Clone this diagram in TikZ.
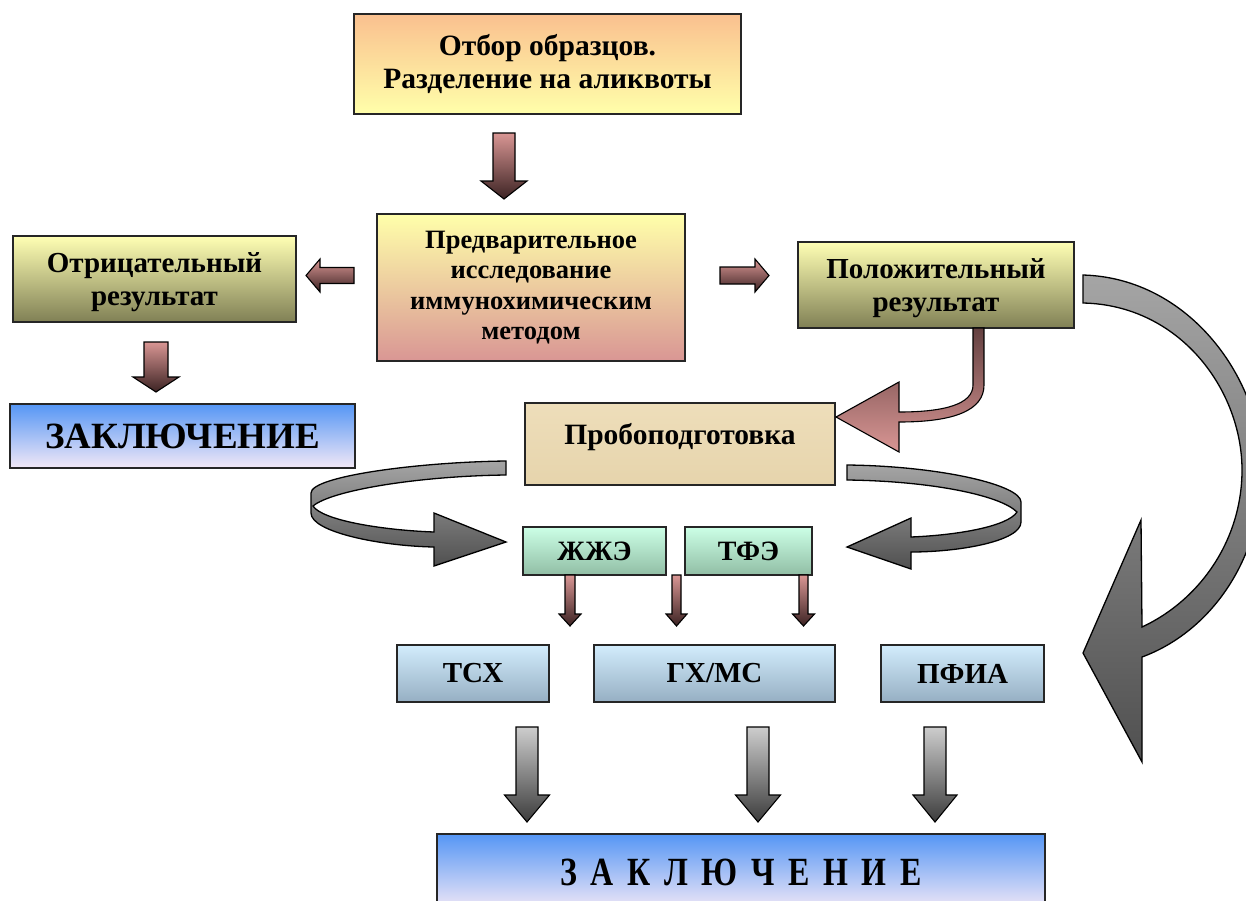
\documentclass[tikz,border=0pt]{standalone}
\usepackage{fontspec}
\setmainfont{Liberation Serif}
\definecolor{peach}{RGB}{250,192,143}
\definecolor{lyel}{RGB}{255,255,170}
\definecolor{rose}{RGB}{217,150,148}
\definecolor{olivetop}{RGB}{255,255,180}
\definecolor{olivebot}{RGB}{128,128,85}
\definecolor{bluetop}{RGB}{85,150,245}
\definecolor{bluebot}{RGB}{242,232,246}
\definecolor{minttop}{RGB}{204,255,230}
\definecolor{mintbot}{RGB}{145,190,165}
\definecolor{lbtop}{RGB}{210,236,252}
\definecolor{lbbot}{RGB}{150,175,195}
\definecolor{beige}{RGB}{238,222,186}
\definecolor{beigebot}{RGB}{230,212,172}
\definecolor{darkrose}{RGB}{60,35,35}
\definecolor{midrose}{RGB}{100,65,65}
\definecolor{gtop}{RGB}{205,205,205}
\definecolor{gbot}{RGB}{60,60,60}
\definecolor{ctop}{RGB}{165,165,165}
\definecolor{cbot}{RGB}{80,80,80}
\newcommand\varrow[7]{\path[#7] ({#1-#5},#2) -- ({#1+#5},#2) -- ({#1+#5},#3) -- ({#1+#6},#3) -- (#1,#4) -- ({#1-#6},#3) -- ({#1-#5},#3) -- cycle;}
\newcommand\harrow[7]{\path[#7] (#1,{#4-#5}) -- (#2,{#4-#5}) -- (#2,{#4-#6}) -- (#3,#4) -- (#2,{#4+#6}) -- (#2,{#4+#5}) -- (#1,{#4+#5}) -- cycle;}
\newcommand\lsp{\hspace{17pt}}
\begin{document}
\begin{tikzpicture}[x=1pt,y=-1pt,
  box/.style={draw=black!85, line width=1.6pt, align=center, inner sep=2pt, text=black},
  parrow/.style={draw=black, line width=1.1pt, top color=rose, bottom color=darkrose},
  garrow/.style={draw=black, line width=1.1pt, top color=gtop, bottom color=gbot},
  carrow/.style={draw=black, line width=1.3pt, top color=ctop, bottom color=cbot},
]
\useasboundingbox (0,0) rectangle (1246,900);
\clip (0,0) rectangle (1246,900);
\fill[white] (0,0) rectangle (1246,900);

% boxes
\node[box, top color=peach, bottom color=lyel, minimum width=387, minimum height=100,
  font=\fontsize{29.5}{33}\selectfont\bfseries] (otbor) at (547.5,64) {Отбор образцов.\\Разделение на аликвоты};
\node[box, top color=lyel, bottom color=rose, minimum width=308, minimum height=147,
  font=\fontsize{26.5}{30.5}\selectfont\bfseries] (predv) at (531,287.5) {Предварительное\\исследование\\иммунохимическим\\методом};
\node[box, top color=olivetop, bottom color=olivebot, minimum width=283, minimum height=86,
  font=\fontsize{29}{33}\selectfont\bfseries, text depth=0pt] (neg) at (154.5,279) {Отрицательный\\результат};
\node[box, top color=olivetop, bottom color=olivebot, minimum width=276, minimum height=86,
  font=\fontsize{29}{33}\selectfont\bfseries, text depth=0pt] (pos) at (936,285) {Положительный\\результат};
\node[box, top color=bluetop, bottom color=bluebot, minimum width=345, minimum height=64,
  font=\fontsize{37}{42}\selectfont\bfseries] (concl1) at (182.5,436) {ЗАКЛЮЧЕНИЕ};
\node[box, top color=beige, bottom color=beigebot, minimum width=310, minimum height=82,
  font=\fontsize{29.5}{33}\selectfont\bfseries, text height=15pt, text depth=15pt] (prob) at (680,444) {Пробоподготовка};
\node[box, top color=minttop, bottom color=mintbot, minimum width=143, minimum height=48,
  font=\fontsize{28}{30}\selectfont\bfseries] (zhzhe) at (594.5,551) {ЖЖЭ};
\node[box, top color=minttop, bottom color=mintbot, minimum width=127, minimum height=48,
  font=\fontsize{28}{30}\selectfont\bfseries] (tfe) at (748.5,551) {ТФЭ};
\node[box, top color=lbtop, bottom color=lbbot, minimum width=152, minimum height=57,
  font=\fontsize{29}{30}\selectfont\bfseries] (tsx) at (473,673.5) {ТСХ};
\node[box, top color=lbtop, bottom color=lbbot, minimum width=241, minimum height=57,
  font=\fontsize{29}{30}\selectfont\bfseries] (gxms) at (714.5,673.5) {ГХ/МС};
\node[box, top color=lbtop, bottom color=lbbot, minimum width=163, minimum height=57,
  font=\fontsize{29}{30}\selectfont\bfseries] (pfia) at (962.5,673.5) {ПФИА};
\node[box, top color=bluetop, bottom color=bluebot, minimum width=608, minimum height=76,
  font=\fontsize{40}{44}\selectfont\bfseries] (concl2) at (741,872) {\scalebox{0.8}[1]{З\lsp А\lsp К\lsp Л\lsp Ю\lsp Ч\lsp Е\lsp Н\lsp И\lsp Е}};

% straight block arrows
\varrow{504}{133}{181}{199}{11}{23}{parrow}
\harrow{354}{320}{306}{275.5}{8}{16.5}{parrow}
\harrow{720}{755}{769}{275.5}{8.5}{16.5}{parrow}
\varrow{156}{342}{377}{392}{12}{23}{parrow}
\varrow{570}{575}{614}{626}{5}{11}{parrow}
\varrow{676.5}{575}{614}{626}{4.5}{10.5}{parrow}
\varrow{803.5}{575}{614}{626}{4.5}{11}{parrow}
\varrow{527}{727}{795}{822}{11}{22.5}{garrow}
\varrow{758}{727}{795}{822}{11}{22.5}{garrow}
\varrow{935}{727}{795}{822}{11}{22}{garrow}

% curved pink arrow from pos to prob
\path[draw=black, line width=1.1pt, top color=midrose, bottom color=rose]
  (973,328) -- (973,385) .. controls (973,404) and (945,412) .. (899,412)
  -- (899,382) -- (836,417) -- (899,452) -- (899,422)
  .. controls (955,422) and (984,410) .. (984,385) -- (984,328) -- cycle;

% curved grey arrow left of prob
\path[carrow]
  (506,461) .. controls (420,462) and (311,476) .. (311,493) -- (311,513)
  .. controls (311,532) and (380,546) .. (434,547) -- (434,566) -- (506,542) -- (434,513) -- (434,532)
  .. controls (380,530) and (322,520) .. (313,506)
  .. controls (332,490) and (420,476) .. (506,475) -- cycle;

% curved grey arrow right of prob
\path[carrow]
  (847,465) .. controls (940,466) and (1021,485) .. (1021,502) -- (1021,522)
  .. controls (1021,541) and (960,552) .. (911,552) -- (911,569) -- (847,547) -- (911,518) -- (911,537)
  .. controls (960,535) and (1008,526) .. (1017,512)
  .. controls (1000,495) and (930,481) .. (847,480) -- cycle;

% big grey arrow from pos down to pfia
\path[carrow]
  (1083,275) .. controls (1190,278) and (1262,380) .. (1262,470)
  .. controls (1262,560) and (1210,632) .. (1142,657)
  -- (1142,762) -- (1083,653) -- (1141,520) -- (1142,627)
  .. controls (1200,600) and (1242,540) .. (1242,470)
  .. controls (1242,390) and (1180,305) .. (1083,303) -- cycle;
\end{tikzpicture}
\end{document}
